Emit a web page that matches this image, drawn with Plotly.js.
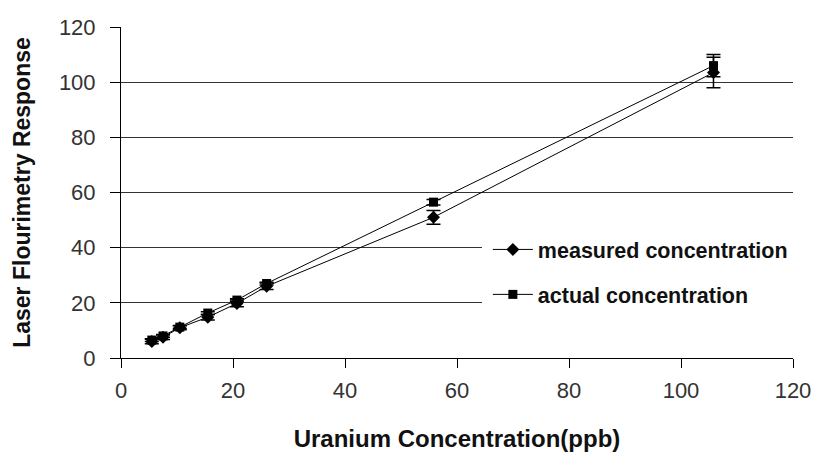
<!DOCTYPE html>
<html>
<head>
<meta charset="utf-8">
<script src="https://cdn.plot.ly/plotly-3.0.1.min.js"></script>
<style>html,body{margin:0;padding:0;background:#fff;}#chart{width:818px;height:455px;}</style>
</head>
<body>
<div id="chart"></div>
<script>
var concentration = [5.5, 7.5, 10.5, 15.5, 20.7, 26, 55.8, 105.8];
var measured = [6, 7.5, 11, 14.8, 19.8, 26, 51, 103.5];
var measuredErr = [0.8, 0.8, 0.8, 1, 1.2, 1.2, 2.5, 5.5];
var actual = [6.5, 8, 11.2, 16.3, 21, 27, 56.5, 106];
var actualErr = [0.5, 0.5, 0.5, 0.5, 0.5, 0.5, 1, 4];
var xTicks = [0, 20, 40, 60, 80, 100, 120];
var yTicks = [0, 20, 40, 60, 80, 100, 120];

var traces = [
  {
    x: concentration, y: measured, name: 'measured concentration',
    type: 'scatter', mode: 'lines+markers', legendgroup: 'a',
    line: {color: '#000', width: 1},
    marker: {symbol: 'diamond', size: 10, color: '#000'},
    error_y: {type: 'data', array: measuredErr, visible: true, color: '#000', thickness: 1.5, width: 7}
  },
  {
    x: concentration, y: actual, name: 'actual concentration',
    type: 'scatter', mode: 'lines+markers', legendgroup: 'b',
    line: {color: '#000', width: 1},
    marker: {symbol: 'square', size: 9, color: '#000'},
    error_y: {type: 'data', array: actualErr, visible: true, color: '#000', thickness: 1.5, width: 7}
  }
];

var layout = {
  width: 818, height: 455,
  margin: {l: 121, r: 25, t: 27, b: 97},
  paper_bgcolor: '#fff', plot_bgcolor: '#fff',
  font: {family: 'Liberation Sans, Arial, sans-serif', color: '#000'},
  showlegend: true,
  legend: {
    x: 0.537, y: 0.408, xanchor: 'left', yanchor: 'top',
    bgcolor: '#fff', bordercolor: '#fff', borderwidth: 6, itemwidth: 40,
    font: {size: 21.5, color: '#111', family: 'Liberation Sans, Arial, sans-serif', weight: 'bold'},
    traceorder: 'grouped', tracegroupgap: 14
  },
  xaxis: {
    range: [0, 120], tickvals: xTicks, ticktext: xTicks.map(String),
    showgrid: false, zeroline: false,
    showline: true, linecolor: '#000', linewidth: 1,
    ticks: 'outside', ticklen: 9, tickcolor: '#000', tickwidth: 1,
    ticklabelstandoff: 4,
    tickfont: {size: 22, color: '#333'},
    title: {text: 'Uranium Concentration(ppb)', font: {size: 24, color: '#111', weight: 'bold'}, standoff: 27}
  },
  yaxis: {
    range: [0, 120], tickvals: yTicks, ticktext: yTicks.map(String),
    showgrid: true, gridcolor: '#333', gridwidth: 1, zeroline: false,
    showline: true, linecolor: '#000', linewidth: 1,
    ticks: 'outside', ticklen: 10, tickcolor: '#000', tickwidth: 1,
    ticklabelstandoff: 10,
    tickfont: {size: 22, color: '#333'},
    title: {text: 'Laser Flourimetry Response', font: {size: 23, color: '#111', weight: 'bold'}, standoff: 21}
  }
};

Plotly.newPlot('chart', traces, layout, {displayModeBar: false, staticPlot: true});
</script>
</body>
</html>
